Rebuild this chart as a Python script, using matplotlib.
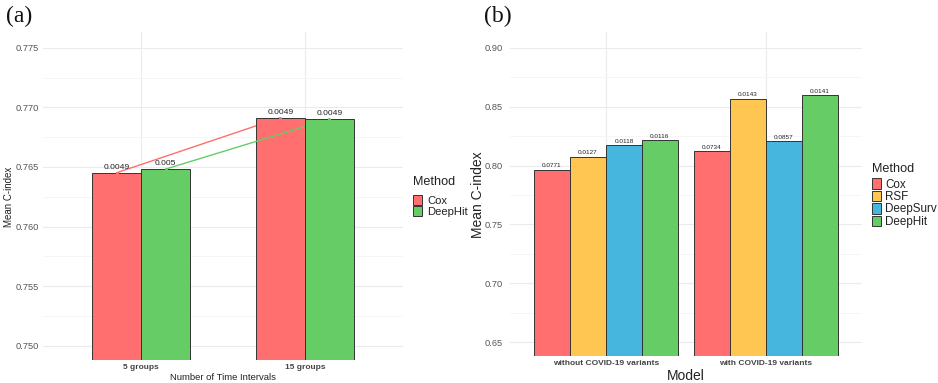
import matplotlib
matplotlib.use("Agg")
import matplotlib.pyplot as plt
import numpy as np
from matplotlib.patches import Patch
from matplotlib.ticker import MultipleLocator
from matplotlib.transforms import Bbox

# ---------------- data ----------------
# panel (a)
a_groups = ["5 groups", "15 groups"]
a_methods = ["Cox", "DeepHit"]
a_cox = [0.76451, 0.76913]
a_deephit = [0.76482, 0.76902]
a_cox_labels = ["0.0049", "0.0049"]
a_deephit_labels = ["0.005", "0.0049"]

# panel (b)
b_models = ["without COVID-19 variants", "with COVID-19 variants"]
b_methods = ["Cox", "RSF", "DeepSurv", "DeepHit"]
b_cox = [0.7962, 0.8121]
b_rsf = [0.8075, 0.8567]
b_deepsurv = [0.8172, 0.8205]
b_deephit = [0.8214, 0.8596]
b_cox_labels = ["0.0771", "0.0734"]
b_rsf_labels = ["0.0127", "0.0143"]
b_deepsurv_labels = ["0.0118", "0.0857"]
b_deephit_labels = ["0.0116", "0.0141"]

a_yticks = [0.750, 0.755, 0.760, 0.765, 0.770, 0.775]
b_yticks = [0.65, 0.70, 0.75, 0.80, 0.85, 0.90]

# ---------------- style ----------------
plt.rcParams['font.family'] = ['Liberation Sans', 'DejaVu Sans']
RED = "#FF6F6F"
YEL = "#FFC752"
BLU = "#46B6DE"
GRN = "#66CC66"
EDGE = "#333333"
TICKC = "#555555"
TXT = "#222222"

W, H = 938, 383
fig = plt.figure(figsize=(W / 100, H / 100), dpi=100)


def fx(px):
    return px / W


def fy(py):
    return 1 - py / H


def style_axes(ax, yticks, minor_step, fmt):
    for s in ax.spines.values():
        s.set_visible(False)
    ax.set_yticks(yticks)
    ax.set_yticklabels([fmt.format(v) for v in yticks])
    ax.yaxis.set_minor_locator(MultipleLocator(minor_step))
    ax.grid(True, which="major", color="#EBEBEB", lw=0.8, zorder=0)
    ax.grid(True, which="minor", axis="y", color="#F4F4F4", lw=0.6, zorder=0)
    ax.set_axisbelow(True)
    ax.tick_params(axis="both", which="both", length=0)
    ax.tick_params(axis="y", labelsize=6.7, labelcolor=TICKC, pad=3)
    ax.tick_params(axis="x", labelsize=6.0, labelcolor="#444444", pad=3)
    for t in ax.get_xticklabels():
        t.set_fontweight("bold")


# ---------------- panel (a) ----------------
axA = fig.add_axes([fx(43), fy(360), fx(403 - 43), (360 - 32) / H])
xa = np.arange(1, len(a_groups) + 1)
wa = 0.3
# ordering: red line < Cox bars < green line < DeepHit bars
axA.plot(xa - wa / 2, a_cox, color=RED, lw=1.0, zorder=2)
axA.bar(xa - wa / 2, a_cox, width=wa, color=RED, edgecolor=EDGE, lw=0.7, zorder=3)
axA.plot(xa + wa / 2, a_deephit, color=GRN, lw=1.0, zorder=4)
axA.bar(xa + wa / 2, a_deephit, width=wa, color=GRN, edgecolor=EDGE, lw=0.7, zorder=5)
axA.scatter(xa - wa / 2, a_cox, s=5, color=RED, zorder=6, lw=0)
axA.scatter(xa + wa / 2, a_deephit, s=5, color=GRN, zorder=6, lw=0)
for x, v, l in zip(xa - wa / 2, a_cox, a_cox_labels):
    axA.annotate(l, (x, v), xytext=(0, 1.5), textcoords="offset points",
                 ha="center", va="bottom", fontsize=6.1, color=TXT, zorder=7)
for x, v, l in zip(xa + wa / 2, a_deephit, a_deephit_labels):
    axA.annotate(l, (x, v), xytext=(0, 1.5), textcoords="offset points",
                 ha="center", va="bottom", fontsize=6.1, color=TXT, zorder=7)
axA.set_xlim(0.4, 2.6)
axA.set_ylim(0.7488, 0.77632)
axA.set_xticks(xa)
axA.set_xticklabels(a_groups)
style_axes(axA, a_yticks, 0.0025, "{:.3f}")
axA.set_xlabel("Number of Time Intervals", fontsize=6.8, color=TXT, va="center")
axA.xaxis.set_label_coords((223 - 43) / 360, -(378 - 360) / 328)
axA.set_ylabel("Mean C-index", fontsize=7.0, color=TXT, va="center")
axA.yaxis.set_label_coords(-(43 - 9.5) / 360, (360 - 197) / 328)

legA = fig.legend(
    handles=[Patch(facecolor=RED, edgecolor=EDGE, lw=0.7),
             Patch(facecolor=GRN, edgecolor=EDGE, lw=0.7)],
    labels=a_methods, loc="upper left",
    bbox_to_anchor=(fx(412.5), fy(194.8)), frameon=False, fontsize=8.1,
    handlelength=0.83, handleheight=1.0,
    handletextpad=0.5, labelspacing=0.05, borderpad=0, borderaxespad=0)
clipA = Bbox.from_extents(0, 0, 469, H)
for t in legA.get_texts():
    t.set_color(TXT)
    t.set_clip_box(clipA)
    t.set_clip_on(True)
fig.text(fx(413), fy(181.7), "Method", fontsize=9.1, color=TXT, ha="left", va="center")

fig.text(fx(6), fy(16), "(a)", fontsize=17, family="Liberation Serif",
         ha="left", va="center", color="#111111")

# ---------------- panel (b) ----------------
axB = fig.add_axes([fx(510), fy(356), fx(861.7 - 510), (356 - 32.3) / H])
xb = np.arange(1, len(b_models) + 1)
wb = 0.225
series = [(b_cox, b_cox_labels, RED), (b_rsf, b_rsf_labels, YEL),
          (b_deepsurv, b_deepsurv_labels, BLU), (b_deephit, b_deephit_labels, GRN)]
offs = (np.arange(4) - 1.5) * wb
for off, (vals, labs, col) in zip(offs, series):
    axB.bar(xb + off, vals, width=wb, color=col, edgecolor=EDGE, lw=0.7, zorder=3)
    for x, v, l in zip(xb + off, vals, labs):
        axB.annotate(l, (x, v), xytext=(0, 1.2), textcoords="offset points",
                     ha="center", va="bottom", fontsize=4.6, color=TXT, zorder=7)
axB.set_xlim(0.4, 2.6)
axB.set_ylim(0.6384, 0.913)
axB.set_xticks(xb)
axB.set_xticklabels(b_models)
style_axes(axB, b_yticks, 0.025, "{:.2f}")
axB.tick_params(axis="y", pad=5)
axB.set_xlabel("Model", fontsize=10, color=TXT, va="center")
axB.xaxis.set_label_coords((685.5 - 510) / 351.7, -(376 - 356) / 323.7)
axB.set_ylabel("Mean C-index", fontsize=10, color=TXT, va="center")
axB.yaxis.set_label_coords(-(510 - 477.5) / 351.7, (356 - 195) / 323.7)

legB = fig.legend(
    handles=[Patch(facecolor=c, edgecolor=EDGE, lw=0.7) for c in [RED, YEL, BLU, GRN]],
    labels=b_methods, loc="upper left",
    bbox_to_anchor=(fx(871.5), fy(178.3)), frameon=False, fontsize=8.4,
    handlelength=0.85, handleheight=1.0,
    handletextpad=0.3, labelspacing=0.02, borderpad=0, borderaxespad=0)
for t in legB.get_texts():
    t.set_color(TXT)
fig.text(fx(871.7), fy(169), "Method", fontsize=9.1, color=TXT, ha="left", va="center")

fig.text(fx(484), fy(16), "(b)", fontsize=17, family="Liberation Serif",
         ha="left", va="center", color="#111111")

fig.savefig("out.png", dpi=100)
